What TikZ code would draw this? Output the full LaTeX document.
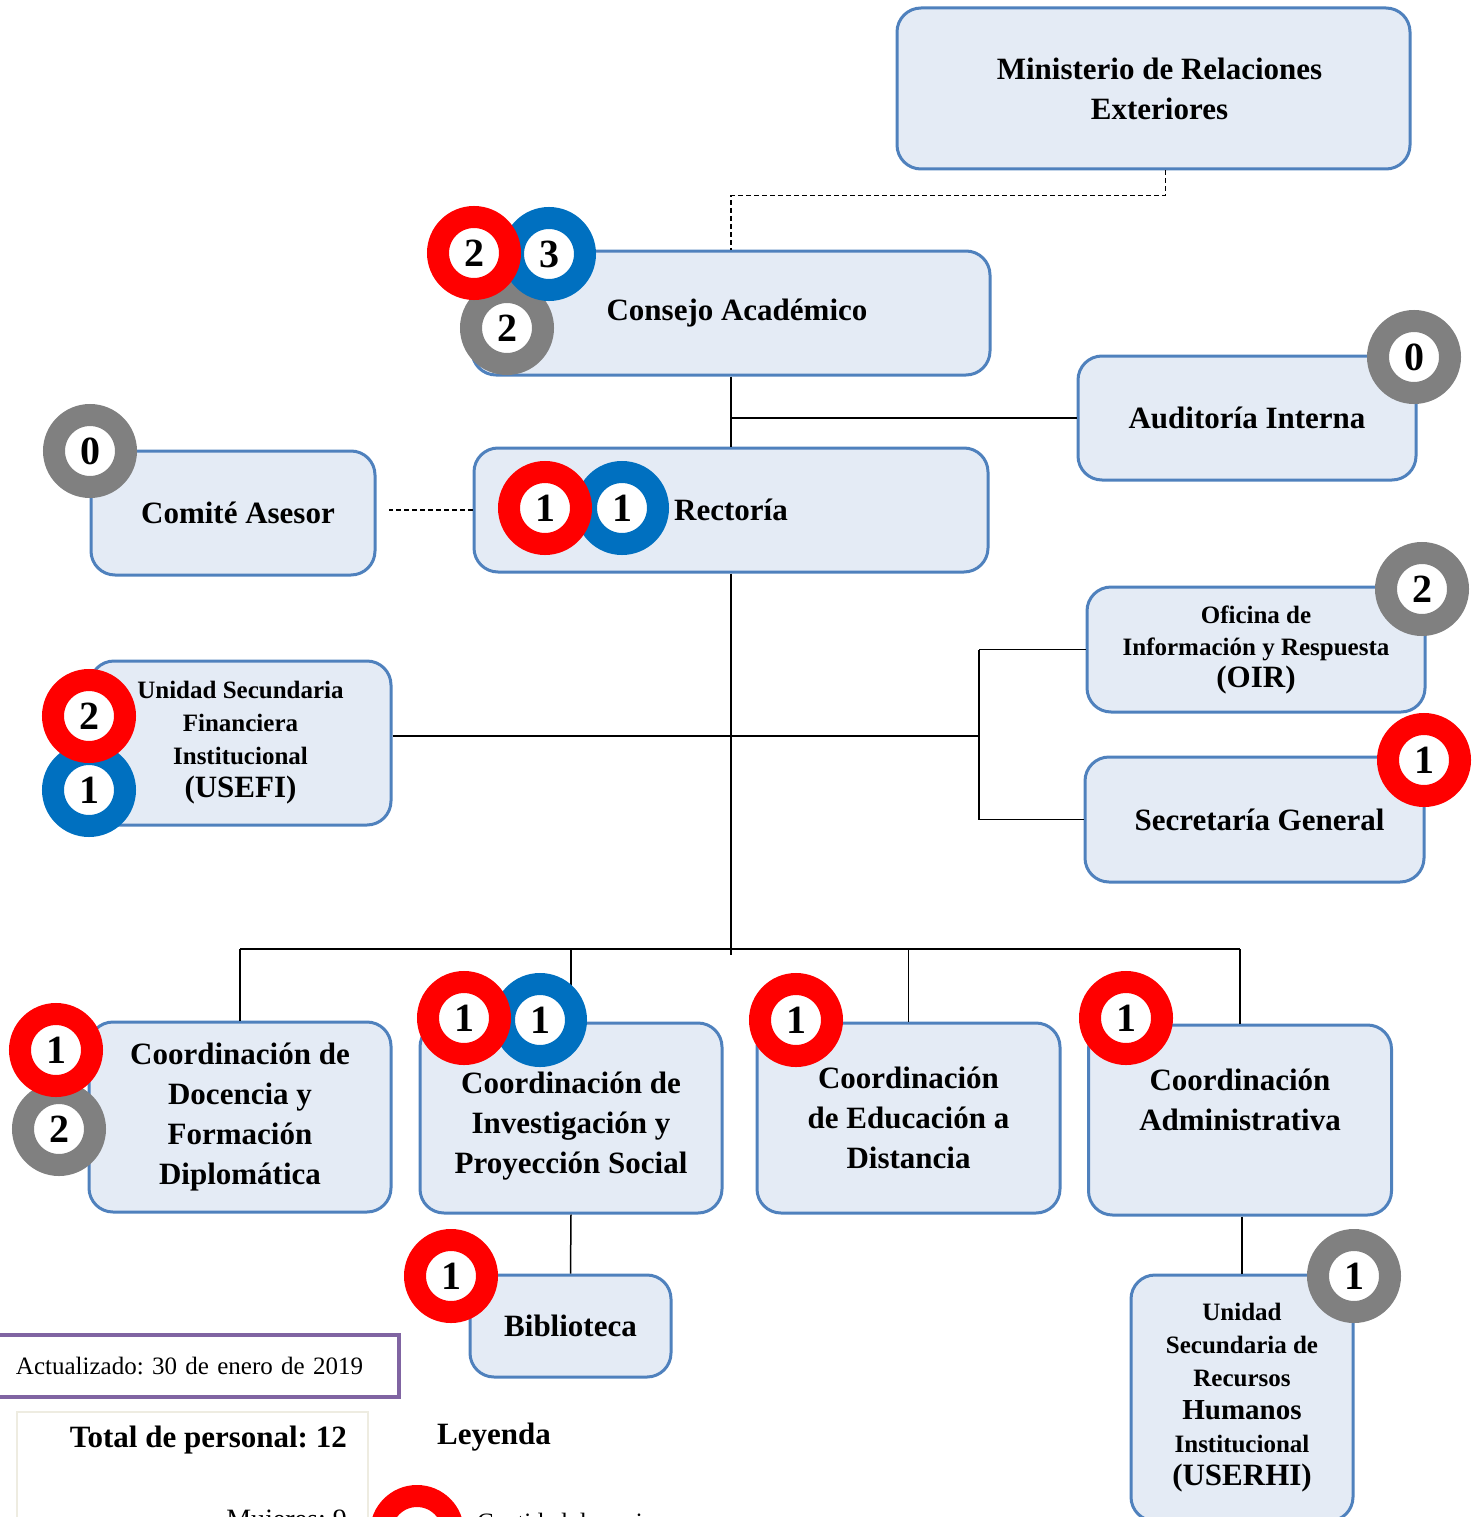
\documentclass[tikz,border=0pt]{standalone}
\usepackage{fontspec}
\setmainfont{Liberation Serif}
\frenchspacing
\definecolor{bordeazul}{RGB}{79,129,189}
\definecolor{fondoazul}{RGB}{228,235,245}
\definecolor{rojo}{RGB}{255,0,0}
\definecolor{azul}{RGB}{0,112,192}
\definecolor{gris}{RGB}{128,128,128}
\definecolor{morado}{RGB}{128,100,162}
\definecolor{beige}{RGB}{238,236,225}

\begin{document}
\begin{tikzpicture}
  [x=1pt,y=-1pt,
   unidad/.style={draw=bordeazul,line width=3pt,fill=fondoazul,rounded corners=24pt,
     align=center,inner sep=0pt,font=\bfseries\fontsize{31}{40}\selectfont},
   ficha/.style={circle,fill=white,line width=22pt,minimum size=72pt,inner sep=0pt,
     font=\bfseries\fontsize{40}{40}\selectfont},
   mujeres/.style={ficha,draw=rojo},
   hombres/.style={ficha,draw=azul},
   vacante/.style={ficha,draw=gris},
   linea/.style={line width=1.5pt},
   enlace/.style={line width=1.2pt,dash pattern=on 5pt off 3pt}]
  \useasboundingbox (0,0) rectangle (1482,1517);
  \clip (0,0) rectangle (1482,1517);

  % unidades
  \node[unidad,minimum width=513pt,minimum height=161pt] (mre) at (1153.5,88.5) {\hspace*{12pt}Ministerio de Relaciones\\\hspace*{12pt}Exteriores};
  \node[unidad,minimum width=518pt,minimum height=124pt] (consejo) at (731,313) {\hspace*{12pt}Consejo Académico};
  \node[unidad,minimum width=338pt,minimum height=124pt] (auditoria) at (1247,418) {Auditoría Interna};
  \node[unidad,minimum width=284pt,minimum height=124pt] (comite) at (233,513) {\hspace*{10pt}Comité Asesor};
  \node[unidad,minimum width=514pt,minimum height=124pt] (rectoria) at (731,510) {Rectoría};
  \node[unidad,minimum width=338pt,minimum height=125pt,font=\bfseries\fontsize{25}{32}\selectfont] (oir) at (1256,649.5)
    {Oficina de\\Información y Respuesta\\{\fontsize{31}{36}\selectfont (OIR)}};
  \node[unidad,minimum width=339pt,minimum height=125pt] (secretaria) at (1254.5,819.5) {\hspace*{10pt}Secretaría General};
  \node[unidad,minimum width=301pt,minimum height=164pt,font=\bfseries\fontsize{25}{33}\selectfont] (usefi) at (240.5,743)
    {Unidad Secundaria\\Financiera\\Institucional\\{\fontsize{31}{35}\selectfont (USEFI)}};
  \node[unidad,minimum width=302pt,minimum height=190pt] (docencia) at (240,1117) {Coordinación de\\Docencia y\\Formación\\Diplomática};
  \node[unidad,minimum width=302pt,minimum height=190pt] (investigacion) at (571,1118)
    {\rule{0pt}{38pt}Coordinación de\\Investigación y\\Proyección Social};
  \node[unidad,minimum width=303pt,minimum height=190pt] (educacion) at (908.5,1118) {Coordinación\\de Educación a\\Distancia};
  \node[unidad,minimum width=303pt,minimum height=190pt] (administrativa) at (1240,1120) {Coordinación\\Administrativa\\~};
  \node[unidad,minimum width=201pt,minimum height=102pt] (biblioteca) at (570.5,1326) {Biblioteca};
  \node[unidad,minimum width=222pt,minimum height=246pt,font=\bfseries\fontsize{25}{33}\selectfont] (userhi) at (1242,1398)
    {Unidad\\Secundaria de\\Recursos\\{\fontsize{29}{34}\selectfont Humanos}\\Institucional\\{\fontsize{31}{37}\selectfont (USERHI)}};

  % conectores
  \draw[enlace] ([xshift=12pt]mre.south) -- ++(0,25) -| (consejo.north);
  \draw[enlace] (rectoria.west) -- ([xshift=12pt]comite.east |- rectoria.west);
  \draw[linea] (consejo.south) -- (rectoria.north);
  \draw[linea] (consejo.south |- auditoria.west) -- (auditoria.west);
  \coordinate (eje) at (731,949);
  \coordinate (rama) at (979,736);
  \draw[linea] (rectoria.south) -- ([yshift=-6pt]eje);
  \draw[linea] (usefi.east |- rama) -- (rama);
  \draw[linea] (oir.west -| rama) -- (secretaria.west -| rama);
  \draw[linea] (oir.west -| rama) -- (oir.west);
  \draw[linea] (secretaria.west -| rama) -- (secretaria.west);
  \draw[linea] (docencia.north |- eje) -- (administrativa.north |- eje);
  \foreach \n in {docencia,investigacion,educacion,administrativa}
    \draw[linea] (\n.north |- eje) -- (\n.north);
  \draw[linea] (investigacion.south) -- (biblioteca.north);
  \draw[linea] (userhi.north |- administrativa.south) -- (userhi.north);

  % cantidades
  \node[vacante] (v1) at (507,328) {2};
  \node[vacante] (v2) at (1414,357) {0};
  \node[vacante] (v3) at (90,451) {0};
  \node[vacante] (v4) at (1422,589) {2};
  \node[vacante] (v5) at (59,1129) {2};
  \node[vacante] (v6) at (1354,1276) {1};
  \node[hombres] (h1) at (549,254) {3};
  \node[hombres] (h2) at (622,508) {1};
  \node[hombres] (h3) at (89,790) {1};
  \node[hombres] (h4) at (540,1020) {1};
  \node[mujeres] (m1) at (474,253) {2};
  \node[mujeres] (m2) at (545,508) {1};
  \node[mujeres] (m3) at (89,716) {2};
  \node[mujeres] (m4) at (1424,760) {1};
  \node[mujeres] (m5) at (56,1050) {1};
  \node[mujeres] (m6) at (464,1018) {1};
  \node[mujeres] (m7) at (796,1020) {1};
  \node[mujeres] (m8) at (1126,1018) {1};
  \node[mujeres] (m9) at (451,1276) {1};

  % leyenda
  \node[draw=morado,line width=4pt,anchor=west,text width=364pt,inner xsep=19pt,minimum height=62pt,align=left,
    font=\fontsize{25}{30}\selectfont] (fecha) at (-5,1366) {Actualizado: 30 de enero de 2019};
  \node[draw=beige,line width=2pt,minimum width=351pt,minimum height=150pt] (total) at (192.5,1487) {};
  \node[anchor=east,inner sep=0pt,font=\bfseries\fontsize{31}{36}\selectfont] (totaltxt) at (347,1440) {Total de personal: 12};
  \node[anchor=east,inner sep=0pt,font=\fontsize{28}{34}\selectfont] (mujerestxt) at (347,1522) {Mujeres: 9};
  \node[font=\bfseries\fontsize{31}{36}\selectfont] (leyenda) at (494,1437) {Leyenda};
  \node[mujeres] (muestra) at (417,1532) {};
  \node[anchor=west,inner sep=0pt,font=\fontsize{25}{30}\selectfont] (muestratxt) at (477,1524) {Cantidad de mujeres};
\end{tikzpicture}
\end{document}
